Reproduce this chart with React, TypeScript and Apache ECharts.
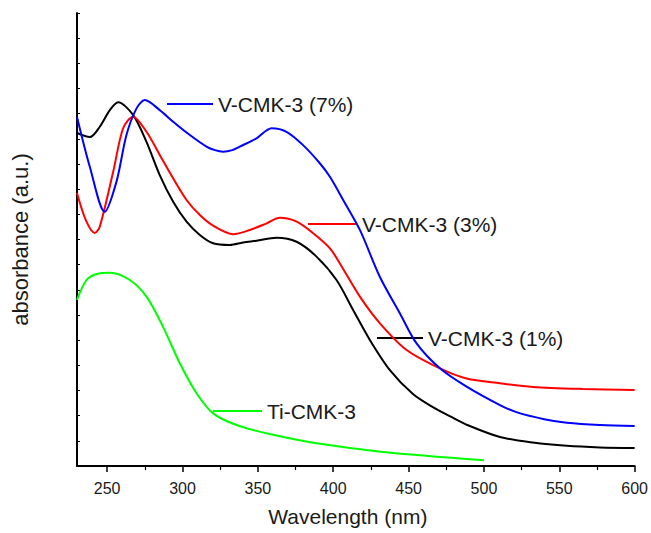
import React, { useEffect, useRef } from "react";
import * as echarts from "echarts";

// Wavelength (nm) / absorbance (a.u.)
const blackX = [230, 238.5, 245.1, 251.8, 257.3, 267.2, 276.1, 284.9, 293.8, 302.7, 311.5, 320.3, 331.4, 340.2, 349.1, 362.4, 375.7, 388.9, 402.2, 413.2, 424.3, 437.6, 452.9, 466.1, 479.6, 488.9, 510.6, 532.5, 555.0, 577, 600];
const blackY = [13.23, 13.07, 13.48, 14.14, 14.45, 13.95, 12.88, 11.56, 10.50, 9.71, 9.18, 8.85, 8.78, 8.88, 8.95, 9.07, 8.91, 8.32, 7.39, 6.20, 5.01, 3.81, 2.86, 2.34, 1.91, 1.63, 1.15, 0.93, 0.80, 0.74, 0.72];

const redX = [230, 236, 241.8, 245.1, 254.0, 260.6, 267.2, 276.1, 284.9, 293.8, 302.7, 311.5, 320.3, 333.6, 344.7, 355.8, 364.6, 375.7, 386.7, 397.8, 404.4, 417.7, 431.0, 448.7, 470.8, 488.5, 510.6, 532.5, 565.6, 600];
const redY = [10.85, 9.75, 9.26, 9.51, 11.69, 13.42, 13.88, 13.28, 12.36, 11.43, 10.57, 9.97, 9.55, 9.21, 9.38, 9.64, 9.86, 9.71, 9.25, 8.65, 8.05, 6.73, 5.67, 4.61, 3.88, 3.48, 3.29, 3.14, 3.06, 3.02];

const blueX = [230, 238.5, 248.4, 256.2, 262.8, 269.5, 275.0, 284.9, 293.8, 304.9, 315.9, 321.5, 327.0, 333.0, 338.0, 349.1, 359.1, 369.0, 380.0, 391.1, 397.8, 406.6, 417.7, 430.9, 444.2, 455.3, 470.8, 488.5, 510.6, 522, 540, 555.0, 577, 600];
const blueY = [13.87, 11.89, 10.10, 11.30, 13.15, 14.21, 14.54, 14.14, 13.68, 13.15, 12.69, 12.55, 12.49, 12.55, 12.69, 13.02, 13.42, 13.28, 12.75, 12.03, 11.49, 10.57, 9.38, 7.52, 6.07, 4.87, 3.88, 3.15, 2.42, 2.13, 1.86, 1.72, 1.63, 1.59];

const greenX = [230, 236.3, 243.1, 251.8, 265.0, 276.1, 287.1, 298.2, 309.3, 320.3, 335.8, 357.9, 389.1, 432.9, 500];
const greenY = [6.60, 7.39, 7.63, 7.68, 7.39, 6.73, 5.53, 4.08, 2.89, 2.09, 1.63, 1.27, 0.90, 0.56, 0.23];

const xTickLabels = [250, 300, 350, 400, 450, 500, 550, 600];
const xMinorTicks = [275, 325, 375, 425, 475, 525, 575];

const seriesNames = ["V-CMK-3 (1%)", "V-CMK-3 (3%)", "V-CMK-3 (7%)", "Ti-CMK-3"];
const seriesColors = ["#000000", "#ff0000", "#0000ff", "#00ff00"];

const FONT = "'Liberation Sans', Arial, sans-serif";

function zip(xs: number[], ys: number[]) {
  return xs.map((x, i) => [x, ys[i]]);
}

export default function App() {
  const ref = useRef<HTMLDivElement>(null);
  useEffect(() => {
    document.body.style.margin = "0";
    document.body.style.overflow = "hidden";
    document.documentElement.style.overflow = "hidden";
    if (!ref.current) return;
    const chart = echarts.init(ref.current, null, { renderer: "svg" });
    const datasets = [zip(blackX, blackY), zip(redX, redY), zip(blueX, blueY), zip(greenX, greenY)];

    const annot = (x1: number, x2: number, y: number, color: string, text: string) => [
      { type: "line", shape: { x1, y1: y, x2, y2: y }, style: { stroke: color, lineWidth: 2 } },
      {
        type: "text",
        x: x2 + 5,
        y,
        style: { text, fill: "#1a1a1a", font: `21px ${FONT}`, verticalAlign: "middle", align: "left" },
      },
    ];

    chart.setOption({
      animation: false,
      backgroundColor: "#ffffff",
      grid: { left: 77, right: 16, top: 13, bottom: 67 },
      xAxis: [
        {
          type: "value",
          min: 230,
          max: 600,
          name: "Wavelength (nm)",
          nameLocation: "middle",
          nameGap: 40,
          nameTextStyle: { fontFamily: FONT, fontSize: 21, color: "#1a1a1a", padding: [0, 16, 0, 0] },
          axisLine: { show: true, lineStyle: { color: "#000", width: 2 } },
          axisTick: { show: true, customValues: xTickLabels, length: 6, inside: false, lineStyle: { color: "#000", width: 1.5 } },
          axisLabel: { customValues: xTickLabels, fontFamily: FONT, fontSize: 16, color: "#1a1a1a", margin: 14 },
          splitLine: { show: false },
        },
        {
          type: "value",
          min: 230,
          max: 600,
          position: "bottom",
          axisLine: { show: false },
          axisTick: { show: true, customValues: xMinorTicks, length: 4, inside: false, lineStyle: { color: "#000", width: 1.2 } },
          axisLabel: { show: false },
          splitLine: { show: false },
        },
      ],
      yAxis: {
        type: "value",
        min: 0,
        max: 18,
        interval: 1,
        name: "absorbance (a.u.)",
        nameLocation: "middle",
        nameGap: 46,
        nameTextStyle: { fontFamily: FONT, fontSize: 22, color: "#1a1a1a" },
        axisLine: { show: true, lineStyle: { color: "#000", width: 2 } },
        axisTick: { show: true, inside: true, length: 3, lineStyle: { color: "#000", width: 1 } },
        axisLabel: { show: false },
        splitLine: { show: false },
      },
      series: datasets.map((d, i) => ({
        name: seriesNames[i],
        type: "line",
        data: d,
        xAxisIndex: 0,
        showSymbol: false,
        symbol: "none",
        smooth: 0.3,
        lineStyle: { color: seriesColors[i], width: 2 },
        z: 3,
      })),
      graphic: [
        ...annot(167, 213, 104, seriesColors[2], seriesNames[2]),
        ...annot(308, 357, 224, seriesColors[1], seriesNames[1]),
        ...annot(377, 423, 338, seriesColors[0], seriesNames[0]),
        ...annot(213, 262, 411, seriesColors[3], seriesNames[3]),
      ],
    });
    return () => chart.dispose();
  }, []);
  return <div ref={ref} style={{ width: 651, height: 533 }} />;
}
